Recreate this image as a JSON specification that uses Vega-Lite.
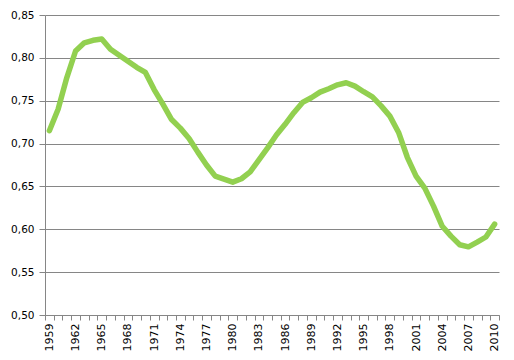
{
  "$schema": "https://vega.github.io/schema/vega-lite/v6.json",
  "width": 454,
  "height": 300,
  "autosize": {"type": "none"},
  "padding": {"left": 45, "top": 15, "right": 15, "bottom": 45},
  "background": "white",
  "config": {"view": {"stroke": null}},
  "data": {"values": [
    {"year": 1959, "value": 0.715},
    {"year": 1960, "value": 0.740},
    {"year": 1961, "value": 0.777},
    {"year": 1962, "value": 0.808},
    {"year": 1963, "value": 0.8175},
    {"year": 1964, "value": 0.8205},
    {"year": 1965, "value": 0.822},
    {"year": 1966, "value": 0.810},
    {"year": 1967, "value": 0.803},
    {"year": 1968, "value": 0.796},
    {"year": 1969, "value": 0.789},
    {"year": 1970, "value": 0.783},
    {"year": 1971, "value": 0.763},
    {"year": 1972, "value": 0.746},
    {"year": 1973, "value": 0.728},
    {"year": 1974, "value": 0.718},
    {"year": 1975, "value": 0.706},
    {"year": 1976, "value": 0.690},
    {"year": 1977, "value": 0.675},
    {"year": 1978, "value": 0.662},
    {"year": 1979, "value": 0.6585},
    {"year": 1980, "value": 0.655},
    {"year": 1981, "value": 0.659},
    {"year": 1982, "value": 0.667},
    {"year": 1983, "value": 0.681},
    {"year": 1984, "value": 0.695},
    {"year": 1985, "value": 0.710},
    {"year": 1986, "value": 0.7225},
    {"year": 1987, "value": 0.736},
    {"year": 1988, "value": 0.748},
    {"year": 1989, "value": 0.7535},
    {"year": 1990, "value": 0.760},
    {"year": 1991, "value": 0.764},
    {"year": 1992, "value": 0.7685},
    {"year": 1993, "value": 0.771},
    {"year": 1994, "value": 0.767},
    {"year": 1995, "value": 0.7605},
    {"year": 1996, "value": 0.7545},
    {"year": 1997, "value": 0.744},
    {"year": 1998, "value": 0.732},
    {"year": 1999, "value": 0.713},
    {"year": 2000, "value": 0.684},
    {"year": 2001, "value": 0.662},
    {"year": 2002, "value": 0.648},
    {"year": 2003, "value": 0.627},
    {"year": 2004, "value": 0.6035},
    {"year": 2005, "value": 0.592},
    {"year": 2006, "value": 0.582},
    {"year": 2007, "value": 0.5795},
    {"year": 2008, "value": 0.585},
    {"year": 2009, "value": 0.591},
    {"year": 2010, "value": 0.606}
  ]},
  "mark": {"type": "line", "color": "#92D050", "strokeWidth": 5.5, "strokeCap": "round", "strokeJoin": "round"},
  "encoding": {
    "x": {
      "field": "year",
      "type": "ordinal",
      "bandPosition": 0.5,
      "scale": {"type": "band", "paddingInner": 0, "paddingOuter": 0},
      "axis": {
        "title": null,
        "tickBand": "extent",
        "grid": false,
        "labelAngle": -90,
        "labelAlign": "right",
        "labelBaseline": "middle",
        "labelFont": "DejaVu Sans",
        "labelFontSize": 11,
        "labelColor": "#000000",
        "labelPadding": 3,
        "labelOverlap": false,
        "labelExpr": "(toNumber(datum.value) - 1959) % 3 == 0 ? datum.label : ''",
        "tickSize": 5,
        "tickColor": "#868686",
        "domainColor": "#868686",
        "tickWidth": 1,
        "domainWidth": 1
      }
    },
    "y": {
      "field": "value",
      "type": "quantitative",
      "scale": {"domain": [0.5, 0.85], "nice": false, "zero": false},
      "axis": {
        "title": null,
        "values": [0.5, 0.55, 0.6, 0.65, 0.7, 0.75, 0.8, 0.85],
        "labelExpr": "replace(format(datum.value, '.2f'), '.', ',')",
        "labelFont": "DejaVu Sans",
        "labelFontSize": 10.5,
        "labelColor": "#000000",
        "labelPadding": 5,
        "tickSize": 6,
        "tickColor": "#868686",
        "domainColor": "#868686",
        "gridColor": "#868686",
        "grid": true,
        "gridWidth": 1,
        "labelBaseline": "middle"
      }
    }
  }
}
